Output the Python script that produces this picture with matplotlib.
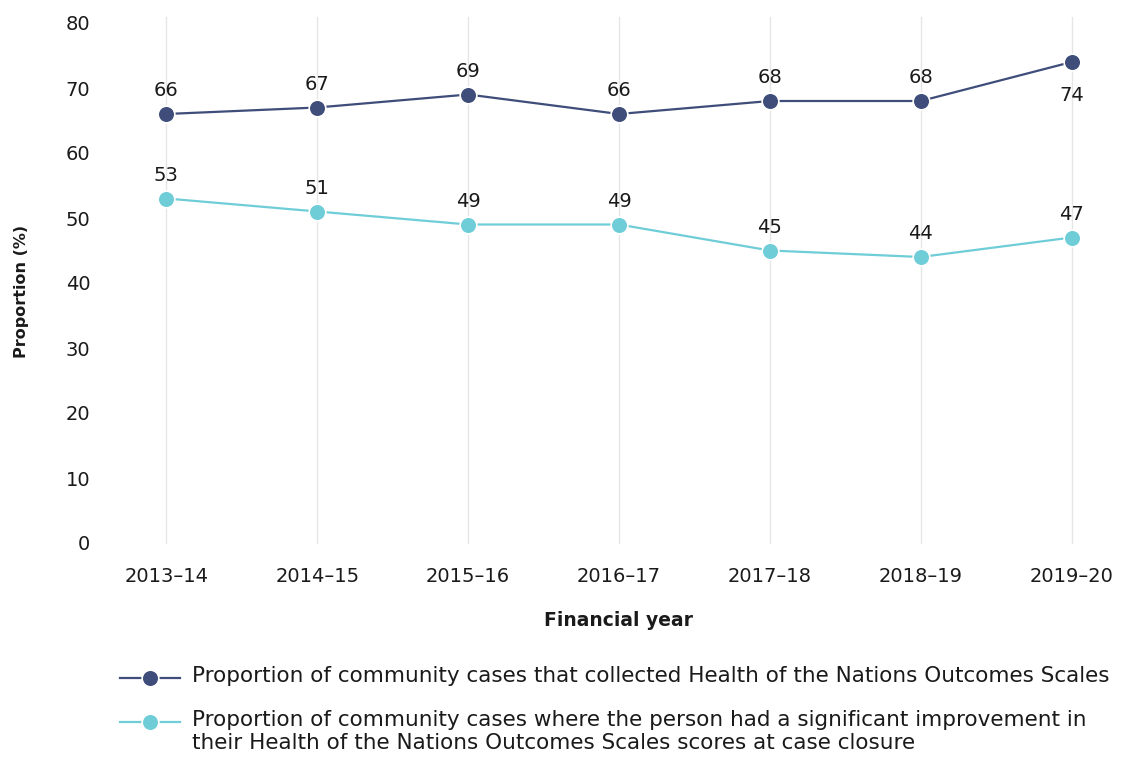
import matplotlib
matplotlib.use("Agg")
import matplotlib.pyplot as plt
from matplotlib.lines import Line2D

years = ["2013–14", "2014–15", "2015–16", "2016–17", "2017–18", "2018–19", "2019–20"]
collected = [66, 67, 69, 66, 68, 68, 74]
improved = [53, 51, 49, 49, 45, 44, 47]

label_collected = "Proportion of community cases that collected Health of the Nations Outcomes Scales"
label_improved = ("Proportion of community cases where the person had a significant improvement in\n"
                  "their Health of the Nations Outcomes Scales scores at case closure")

navy = "#3e4d7a"
teal = "#6fcdd8"
text_color = "#1a1a1a"

plt.rcParams["font.family"] = ["DejaVu Sans"]

W, H = 1136, 760
fig = plt.figure(figsize=(W / 100, H / 100), dpi=100)
ax = fig.add_axes([100 / W, 1 - 543 / H, 1036 / W, 520 / H])

x = list(range(len(years)))
style = dict(lw=1.6, marker="o", ms=12, mec="white", mew=1.2)
ax.plot(x, collected, color=navy, mfc=navy, zorder=3, **style)
ax.plot(x, improved, color=teal, mfc=teal, zorder=3, **style)

for xi, v in zip(x, collected):
    if xi == len(x) - 1:
        ax.annotate(str(v), (xi, v), xytext=(0, -17), textcoords="offset points",
                    ha="center", va="top", fontsize=14, color=text_color)
    else:
        ax.annotate(str(v), (xi, v), xytext=(0, 10), textcoords="offset points",
                    ha="center", va="bottom", fontsize=14, color=text_color)
for xi, v in zip(x, improved):
    ax.annotate(str(v), (xi, v), xytext=(0, 10), textcoords="offset points",
                ha="center", va="bottom", fontsize=14, color=text_color)

ax.set_xlim(-66 / 150, 6 + 64 / 150)
ax.set_ylim(0, 80)
ax.set_yticks(range(0, 81, 10))
ax.set_xticks(x)
ax.set_xticklabels(years)
ax.tick_params(axis="both", length=0, labelsize=14, colors=text_color)
ax.tick_params(axis="y", pad=7)
ax.tick_params(axis="x", pad=17)
for s in ax.spines.values():
    s.set_visible(False)
for xi in x:
    ax.plot([xi, xi], [0, 81], color="#e6e6e6", lw=1, zorder=1, clip_on=False)

ax.set_xlabel("Financial year", fontsize=13.5, fontweight="bold", color=text_color, labelpad=18)
ax.set_ylabel("Proportion (%)", fontsize=11.5, fontweight="bold", color=text_color)
ax.yaxis.set_label_coords(-0.0685, 0.483)

# Legend drawn by hand so each marker sits level with the first line of its label
legend_rows = [(navy, label_collected, 678), (teal, label_improved, 722)]
for color, text, ypx in legend_rows:
    yf = 1 - ypx / H
    fig.add_artist(Line2D([120 / W, 180 / W], [yf, yf], color=color, lw=1.6,
                          transform=fig.transFigure))
    fig.add_artist(Line2D([150 / W], [yf], color=color, marker="o", ms=12, mfc=color,
                          mec="white", mew=1.2, transform=fig.transFigure))
    fig.text(192 / W, yf + 11.5 / H, text, ha="left", va="top", fontsize=15.5,
             color=text_color, linespacing=1.15)

fig.savefig("out.png", dpi=100, facecolor="white")
